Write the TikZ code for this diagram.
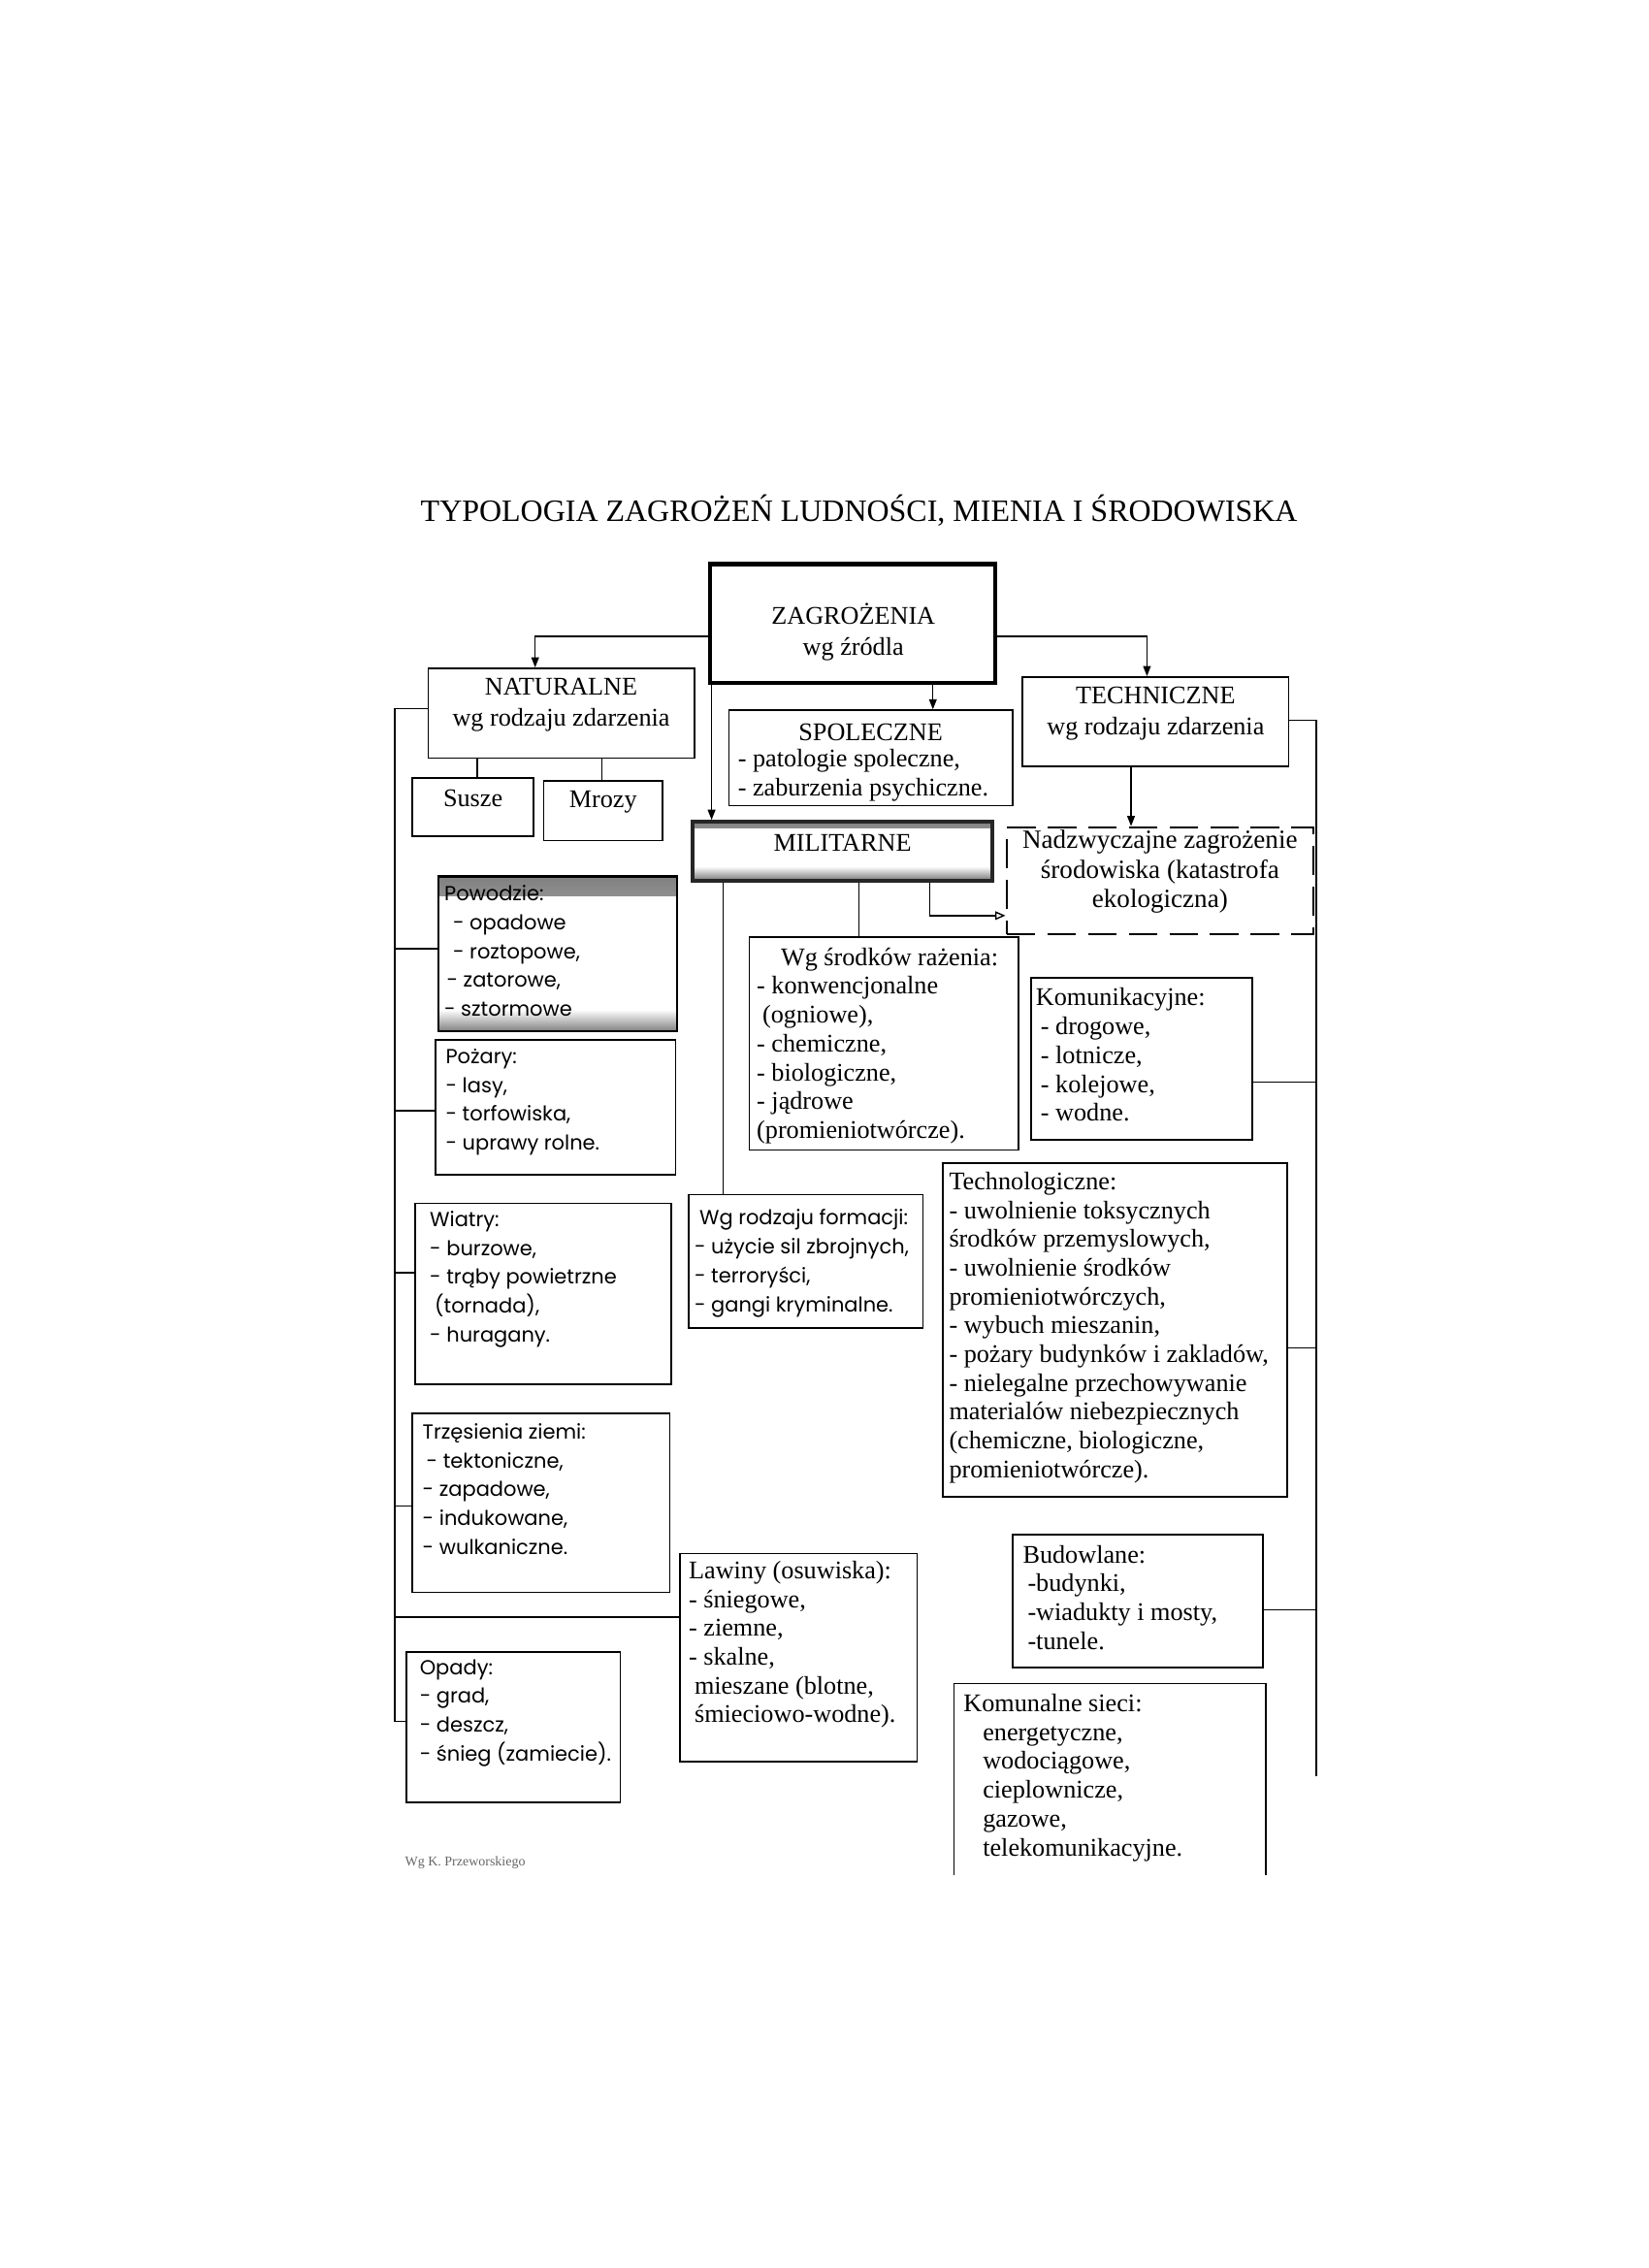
\documentclass[tikz,border=0pt]{standalone}
\usepackage{fontspec}
\setmainfont{Liberation Serif}
\newfontfamily\geofont{Poppins}
\usetikzlibrary{arrows.meta, fit, patterns}

\begin{document}
\begin{tikzpicture}[x=0.03cm, y=-0.03cm]
% Define styles
\tikzset{
    box/.style={draw, line width=0.9pt, inner sep=0pt},
    head/.style={font=\fontsize{15}{18.5}\selectfont, align=center},
    list/.style={font=\fontsize{15}{17}\selectfont, align=left, anchor=north west, inner sep=0pt},
    glist/.style={font=\geofont\fontsize{12}{17}\selectfont, align=left, anchor=north west, inner sep=0pt},
    link/.style={line width=0.8pt},
    arr/.style={link, -{Triangle[length=6pt, width=4.5pt]}},
    oarr/.style={link, -{Triangle[open, length=6pt, width=5pt]}},
    title/.style={font=\fontsize{18.3}{22}\selectfont}
}

% Page
\fill[white] (0,0) rectangle (1140,1568);
\useasboundingbox (0,0) rectangle (1140,1568);

% Title
\node[title] (title) at (594,353) {TYPOLOGIA ZAGROŻEŃ LUDNOŚCI, MIENIA I ŚRODOWISKA};

% Top level
\node[box, line width=2.4pt, fit={(491,390) (688,472)}] (zagr) {};
\node[head] (zagrtxt) at (590,437) {ZAGROŻENIA\\wg źródla};
\node[box, head, fit={(296,462) (480,524)}] (natur) {NATURALNE\\wg rodzaju zdarzenia};
\node[box, head, fit={(707,468) (891,530)}] (techn) {TECHNICZNE\\wg rodzaju zdarzenia};
\node[box, fit={(504,491) (700,557)}] (spol) {};
\node[head] (spolhead) at (602,506) {SPOLECZNE};
\node[list] (spoltxt) at (510,518) {- patologie spoleczne,\\- zaburzenia psychiczne.};
\node[box, line width=2pt, draw=black!85, head, fit={(479,568) (686,609)},
    path picture={
        \shade[top color=black!50, bottom color=white] (path picture bounding box.north west) rectangle ([yshift=-0.13cm]path picture bounding box.north east);
        \shade[top color=white, bottom color=black!55] ([yshift=0.3cm]path picture bounding box.south west) rectangle (path picture bounding box.south east);
    }] (milit) {MILITARNE};
\node[box, line width=1.4pt, dash pattern=on 17pt off 7pt, font=\fontsize{15.5}{17.5}\selectfont, align=center,
    fit={(696,572) (908,646)}] (nadzw) {Nadzwyczajne zagrożenie\\środowiska (katastrofa\\ekologiczna)};

% Natural hazards
\node[box, head, fit={(285,538) (369,578)}] (susze) {Susze};
\node[box, head, fit={(376,540) (458,581)}] (mrozy) {Mrozy};
\node[box, line width=1.3pt, fit={(303,606) (468,713)},
    path picture={
        \shade[top color=black!50, bottom color=white] (path picture bounding box.north west) rectangle ([yshift=-0.4cm]path picture bounding box.north east);
        \shade[top color=white, bottom color=black!50] ([yshift=0.45cm]path picture bounding box.south west) rectangle (path picture bounding box.south east);
    }] (powodz) {};
\node[glist] (powodztxt) at (307,612) {Powodzie:\\\hspace*{0.18cm}- opadowe\\\hspace*{0.18cm}- roztopowe,\\\hspace*{0.05cm}- zatorowe,\\- sztormowe};
\node[box, fit={(301,719) (467,812)}] (pozary) {};
\node[glist] (pozarytxt) at (308,725) {Pożary:\\- lasy,\\- torfowiska,\\- uprawy rolne.};
\node[box, fit={(287,832) (464,957)}] (wiatry) {};
\node[glist] (wiatrytxt) at (297,837) {Wiatry:\\- burzowe,\\- trąby powietrzne\\\hspace*{0.1cm}(tornada),\\- huragany.};
\node[box, fit={(285,977) (463,1101)}] (trzes) {};
\node[glist] (trzestxt) at (292,984) {Trzęsienia ziemi:\\\hspace*{0.08cm}- tektoniczne,\\- zapadowe,\\- indukowane,\\- wulkaniczne.};
\node[box, fit={(281,1142) (429,1246)}] (opady) {};
\node[glist] (opadytxt) at (290,1147) {Opady:\\- grad,\\- deszcz,\\- śnieg (zamiecie).};
\node[box, fit={(470,1074) (634,1218)}] (lawiny) {};
\node[list] (lawinytxt) at (476,1079) {Lawiny (osuwiska):\\- śniegowe,\\- ziemne,\\- skalne,\\\hspace*{0.12cm}mieszane (blotne,\\\hspace*{0.12cm}śmieciowo-wodne).};

% Military hazards
\node[box, fit={(518,648) (704,795)}] (srodki) {};
\node[list] (srodkitxt) at (523,655) {\hspace*{0.5cm}Wg środków rażenia:\\- konwencjonalne\\\hspace*{0.12cm}(ogniowe),\\- chemiczne,\\- biologiczne,\\- jądrowe\\(promieniotwórcze).};
\node[box, fit={(476,826) (638,918)}] (formac) {};
\node[glist] (formactxt) at (480,836) {\hspace*{0.1cm}Wg rodzaju formacji:\\- użycie sil zbrojnych,\\- terroryści,\\- gangi kryminalne.};

% Technical hazards
\node[box, fit={(713,676) (866,788)}] (komunik) {};
\node[list] (komuniktxt) at (716,683) {Komunikacyjne:\\\hspace*{0.1cm}- drogowe,\\\hspace*{0.1cm}- lotnicze,\\\hspace*{0.1cm}- kolejowe,\\\hspace*{0.1cm}- wodne.};
\node[box, fit={(652,804) (890,1035)}] (technol) {};
\node[list] (technoltxt) at (656,810) {Technologiczne:\\- uwolnienie toksycznych\\środków przemyslowych,\\- uwolnienie środków\\promieniotwórczych,\\- wybuch mieszanin,\\- pożary budynków i zakladów,\\- nielegalne przechowywanie\\materialów niebezpiecznych\\(chemiczne, biologiczne,\\promieniotwórcze).};
\node[box, fit={(700,1061) (873,1153)}] (budow) {};
\node[list] (budowtxt) at (707,1068) {Budowlane:\\\hspace*{0.1cm}-budynki,\\\hspace*{0.1cm}-wiadukty i mosty,\\\hspace*{0.1cm}-tunele.};
\node[inner sep=0pt, fit={(660,1164) (875,1296)}] (komunal) {};
\draw[link] (komunal.south west) |- (komunal.north east) -- (komunal.south east);
\node[list] (komunaltxt) at (666,1171) {Komunalne sieci:\\\hspace*{0.4cm}energetyczne,\\\hspace*{0.4cm}wodociągowe,\\\hspace*{0.4cm}cieplownicze,\\\hspace*{0.4cm}gazowe,\\\hspace*{0.4cm}telekomunikacyjne.};

% Source
\node[font=\fontsize{8}{10}\selectfont, text=black!60, anchor=west] (zrodlo) at (276,1288) {Wg K. Przeworskiego};

% Arrows from the top box
\draw[arr] (zagr.west |- 0,440) -| (natur.north -| 370,0);
\draw[arr] (zagr.east |- 0,440) -| (techn.north -| 793,0);
\draw[arr] (zagr.south -| 645,0) -- (spol.north -| 645,0);
\draw[arr] (zagr.south -| 492,0) -- (milit.north -| 492,0);
\draw[arr] (techn.south -| 782,0) -- (nadzw.north -| 782,0);
\draw[oarr] (milit.south -| 643,0) |- (nadzw.west |- 0,633);

% Branches
\draw[link] (natur.south -| 330,0) -- (susze.north -| 330,0);
\draw[link] (natur.south -| 416,0) -- (mrozy.north -| 416,0);
\draw[link] (milit.south -| 500,0) -- (formac.north -| 500,0);
\draw[link] (milit.south -| 594,0) -- (srodki.north -| 594,0);

% Left bus
\coordinate (lbus) at (273,1190);
\draw[link] (natur.west |- 0,490) -| (lbus) -- (opady.west |- lbus);
\foreach \n/\y in {powodz/656, pozary/768, wiatry/880, trzes/1041, lawiny/1118}
    \draw[link] (lbus |- 0,\y) -- (\n.west |- 0,\y);

% Right bus
\coordinate (rbus) at (910,1228);
\draw[link] (techn.east |- 0,498) -| (rbus);
\foreach \n/\y in {komunik/748, technol/932, budow/1113}
    \draw[link] (rbus |- 0,\y) -- (\n.east |- 0,\y);

\end{tikzpicture}
\end{document}
